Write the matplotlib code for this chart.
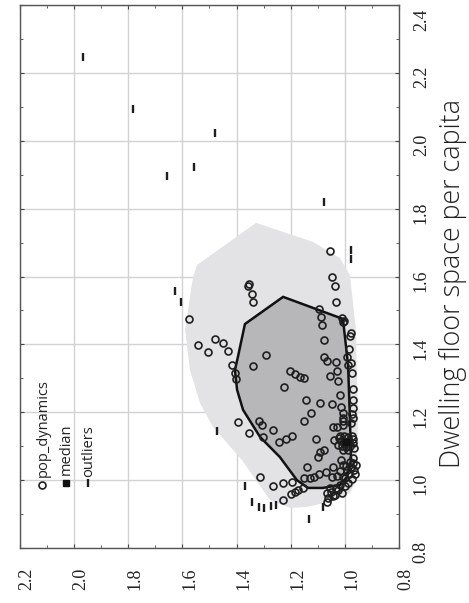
"""Bagplot of population dynamics vs dwelling floor space (rotated layout)."""
import matplotlib
matplotlib.use("Agg")
import matplotlib.pyplot as plt
import matplotlib.transforms as mtransforms
from matplotlib.ticker import MultipleLocator, FormatStrFormatter
import numpy as np

# floor space per capita (vertical) and second variable (horizontal, reversed)
pop_floor = [1.675, 1.598, 1.572, 1.525, 1.578, 1.572, 1.548, 1.525,
             1.475, 1.504, 1.481, 1.457, 1.478, 1.469, 1.466, 1.433, 1.425,
             1.398, 1.416, 1.404, 1.377, 1.380, 1.369,
             1.413, 1.386, 1.363, 1.345, 1.339, 1.363, 1.351, 1.348,
             1.339, 1.336, 1.316, 1.322, 1.307, 1.316,
             1.322, 1.313, 1.304, 1.301, 1.298, 1.292,
             1.274, 1.268, 1.251, 1.236, 1.236, 1.227, 1.224,
             1.215, 1.212, 1.198, 1.198, 1.195, 1.183, 1.183,
             1.174, 1.174, 1.168, 1.171, 1.174, 1.162, 1.148,
             1.157, 1.157, 1.162, 1.139, 1.127, 1.112, 1.121,
             1.130, 1.121, 1.118, 1.124, 1.121,
             1.130, 1.130, 1.127, 1.130, 1.115, 1.112, 1.115, 1.109,
             1.103, 1.101, 1.098, 1.101, 1.095, 1.089, 1.089,
             1.083, 1.089, 1.068, 1.059, 1.065, 1.050, 1.045, 1.039,
             1.039, 1.030, 1.030,
             1.053, 1.042, 1.039, 1.018, 1.018, 1.006, 1.003, 1.027,
             1.045, 0.992,
             1.009, 1.006, 1.006, 1.009, 1.018, 1.024, 1.009, 1.012, 1.009,
             0.983, 0.992, 0.994, 0.977, 0.962, 0.965, 0.977, 0.986,
             0.959, 0.965, 0.971, 0.941, 0.947, 0.953, 0.936,
             0.983, 0.971, 0.962, 0.956, 0.977]
pop_other = [1.055, 1.047, 1.036, 1.033, 1.354, 1.358, 1.343, 1.339,
             1.576, 1.096, 1.088, 1.084, 1.011, 1.003, 1.007, 0.977, 0.981,
             1.542, 1.480, 1.450, 1.506, 1.432, 1.291,
             1.077, 0.985, 0.992, 0.977, 0.988, 1.077, 1.066, 1.033,
             1.417, 1.339, 1.406, 1.029, 1.055, 0.974,
             1.203, 1.184, 1.166, 1.151, 1.402, 1.025,
             1.225, 0.970, 1.018, 0.970, 1.144, 1.092, 1.047,
             1.014, 0.970, 1.125, 1.007, 0.974, 1.007, 0.970,
             1.151, 1.007, 0.977, 1.395, 1.317, 1.306, 1.265,
             1.044, 1.029, 1.007, 1.354, 1.302, 1.243, 1.217,
             1.195, 1.107, 1.040, 1.022, 0.970,
             1.018, 1.003, 0.988, 0.974, 1.014, 0.999, 0.985, 0.970,
             1.025, 1.011, 0.996, 0.981, 0.966, 1.007, 0.988,
             1.092, 1.077, 1.099, 1.014, 0.970, 0.970, 1.007, 1.140,
             1.044, 0.992, 0.966,
             0.981, 0.996, 0.977, 0.962, 0.985, 0.999, 0.974, 1.018,
             0.959, 0.988,
             1.313, 1.151, 1.129, 1.114, 1.096, 1.070, 1.047, 1.029, 1.007,
             1.265, 1.228, 1.195, 1.155, 1.066, 1.051, 1.033, 1.018,
             1.199, 1.184, 1.173, 1.228, 1.062, 1.044, 1.066,
             0.999, 1.025, 1.011, 1.036, 1.055]

median_floor = [1.112]
median_other = [0.996]

out_floor = [2.247, 2.093, 2.023, 1.923, 1.896, 1.819, 1.678, 1.651, 1.557,
             1.525, 1.145, 0.983, 0.936, 0.921, 0.918, 0.924, 0.927, 0.885,
             0.921]
out_other = [1.967, 1.783, 1.480, 1.557, 1.657, 1.077, 0.977, 0.977, 1.627,
             1.605, 1.472, 1.369, 1.343, 1.317, 1.299, 1.273, 1.254, 1.132,
             1.081]

fence_floor = [1.758, 1.702, 1.654, 1.604, 1.442, 1.177, 1.089, 0.992, 0.962,
               0.936, 0.921, 0.918, 0.941, 1.059, 1.157, 1.227, 1.324, 1.442,
               1.501, 1.598, 1.634]
fence_other = [1.328, 1.118, 1.018, 0.981, 0.959, 0.951, 0.955, 0.962, 0.981,
               1.055, 1.140, 1.203, 1.276, 1.380, 1.487, 1.535, 1.572, 1.590,
               1.579, 1.561, 1.546]

bag_floor = [1.540, 1.475, 1.339, 1.177, 1.059, 1.009, 0.986, 0.977, 0.977,
             1.000, 1.068, 1.127, 1.207, 1.266, 1.324, 1.363, 1.460]
bag_other = [1.228, 1.007, 0.988, 0.981, 0.977, 0.992, 1.018, 1.081, 1.136,
             1.177, 1.240, 1.313, 1.376, 1.398, 1.406, 1.395, 1.369]

x_label = "Dwelling floor space per capita"
legend_labels = ["pop_dynamics", "median", "outliers"]

SANS = "Open Sans"
SERIF = "Liberation Serif"


def fit_length(fig, txt, target_px):
    # scale a text so its long side measures target_px
    fig.canvas.draw()
    ext = txt.get_window_extent(fig.canvas.get_renderer())
    txt.set_fontsize(txt.get_fontsize() * target_px / max(ext.width, ext.height))


def shift(dx, dy):
    return mtransforms.ScaledTranslation(dx / 100, dy / 100, fig.dpi_scale_trans)


fig = plt.figure(figsize=(4.69, 6.03), dpi=100)
ax = fig.add_axes([0.0426, 0.0912, 0.8081, 0.9005])
ax.set_xlim(2.2, 0.8)
ax.set_ylim(0.8, 2.4)

ax.fill(fence_other, fence_floor, color="#e3e3e5", lw=0, zorder=1)
ax.fill(bag_other, bag_floor, facecolor="#b7b7ba", edgecolor="#111111",
        lw=1.8, zorder=2)
ax.plot(pop_other, pop_floor, "o", ms=5, mfc="none", mec="#1e1e1e",
        mew=1.2, zorder=3)
ax.plot(median_other, median_floor, "s", ms=4, color="#111111", zorder=4)
ax.plot(out_other, out_floor, "|", ms=5.5, mew=1.7, color="#1e1e1e", zorder=4)

# ticks and grid
for axis in (ax.xaxis, ax.yaxis):
    axis.set_major_locator(MultipleLocator(0.2))
    axis.set_minor_locator(MultipleLocator(0.1))
    axis.set_major_formatter(FormatStrFormatter("%.1f"))
ax.grid(which="major", color="#d2d2d2", lw=1.0)
ax.set_axisbelow(True)
ax.tick_params(which="both", direction="in", top=True, bottom=True,
               left=True, right=True, labelleft=False, labelright=True,
               color="#444444")
ax.tick_params(which="major", length=3)
ax.tick_params(which="minor", length=2)
ax.tick_params(axis="x", pad=14)
ax.tick_params(axis="y", pad=10)
for lab in ax.get_xticklabels():
    lab.set(rotation=90, rotation_mode="anchor", ha="right",
            va="center_baseline", fontfamily=SERIF, fontsize=13,
            color="#222222")
    lab.set_transform(lab.get_transform() + shift(5, 0))
for lab in ax.get_yticklabels():
    lab.set(rotation=90, rotation_mode="anchor", ha="center", va="top",
            fontfamily=SERIF, fontsize=13, color="#222222")
    dy = -15 if lab.get_text() == "2.4" else -4
    lab.set_transform(lab.get_transform() + shift(0, dy))
for s in ax.spines.values():
    s.set_color("#555555")
    s.set_linewidth(1.0)

lab = fig.text(453 / 469, 1 - 283 / 603, x_label, rotation=90,
               ha="center", va="center", fontfamily=SANS, fontweight="light",
               fontsize=15, color="#222222")
fit_length(fig, lab, 372)

# legend drawn by hand so it can be rotated with the rest
mk_x = [0.058, 0.121, 0.179]
mk_y = [0.116, 0.120, 0.120]
txt_x = [0.0704, 0.1319, 0.190]
txt_y = [0.1308, 0.1344, 0.1308]
ax.plot(mk_x[0], mk_y[0], "o", ms=5, mfc="none", mec="#1e1e1e", mew=1.2,
        transform=ax.transAxes, clip_on=False, zorder=5)
ax.plot(mk_x[1], mk_y[1], "s", ms=4, color="#111111",
        transform=ax.transAxes, clip_on=False, zorder=5)
ax.plot(mk_x[2], mk_y[2], "|", ms=5.5, mew=1.7, color="#1e1e1e",
        transform=ax.transAxes, clip_on=False, zorder=5)
leg = []
for k, t in enumerate(legend_labels):
    leg.append(ax.text(txt_x[k], txt_y[k], t, transform=ax.transAxes,
                       rotation=90, rotation_mode="anchor", ha="left",
                       va="baseline", fontfamily=SANS, fontweight="normal",
                       fontsize=11, color="#222222", zorder=5))
fit_length(fig, leg[0], 97)
for t in leg[1:]:
    t.set_fontsize(leg[0].get_fontsize())

fig.savefig("out.png", dpi=100)
plt.close(fig)
